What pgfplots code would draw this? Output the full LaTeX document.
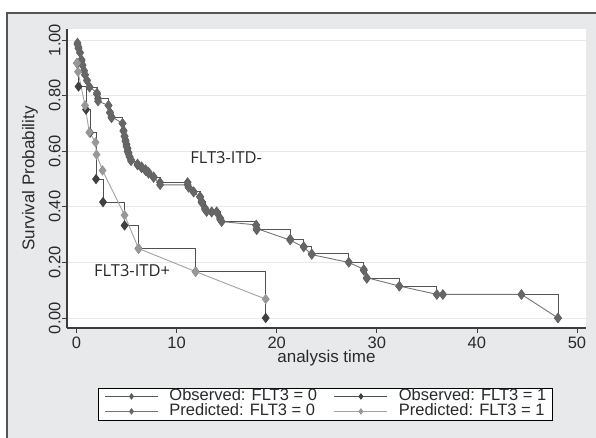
\documentclass[border=0pt]{standalone}
\usepackage{fontspec}
\setmainfont{Liberation Sans}
\newfontfamily\opensans{Open Sans}
\usepackage{pgfplots}
\pgfplotsset{compat=1.18}
\definecolor{bgc}{HTML}{E8E9EA}
\definecolor{framec}{HTML}{555555}
\definecolor{axc}{HTML}{3C3C3C}
\definecolor{gridc}{HTML}{E8E8E8}
\definecolor{obs0}{HTML}{555555}
\definecolor{mk0}{HTML}{5C5C5C}
\definecolor{pred0}{HTML}{747474}
\definecolor{mkp0}{HTML}{666666}
\definecolor{obs1}{HTML}{505050}
\definecolor{mk1}{HTML}{404040}
\definecolor{pred1}{HTML}{A2A2A2}
\definecolor{mkp1}{HTML}{989898}
\definecolor{txtc}{HTML}{2A2A2A}

\pgfplotstableread{
t S
0.1 0.985
0.2 0.97
0.35 0.955
0.5 0.925
0.6 0.91
0.75 0.89
0.85 0.875
1.05 0.855
1.3 0.83
2.05 0.805
2.15 0.79
3.2 0.765
3.35 0.74
3.5 0.72
4.6 0.70
4.7 0.675
4.8 0.655
4.9 0.64
5.0 0.625
5.1 0.61
5.2 0.595
5.3 0.58
5.45 0.565
6.1 0.55
6.5 0.54
6.9 0.53
7.2 0.52
7.7 0.505
8.35 0.488
11.1 0.488
11.2 0.47
11.7 0.455
12.35 0.437
12.5 0.42
12.85 0.395
13.0 0.383
13.5 0.383
14.0 0.383
14.35 0.36
14.5 0.347
17.95 0.333
18.0 0.317
21.35 0.284
22.7 0.257
23.5 0.231
27.2 0.201
28.7 0.171
29.0 0.142
32.25 0.114
36.0 0.084
36.6 0.084
44.45 0.084
48.1 0.0
}\obsZero

\pgfplotstableread{
t S
0.1 0.99
0.2 0.975
0.35 0.955
0.5 0.93
0.6 0.91
0.75 0.89
0.85 0.876
1.05 0.855
1.3 0.832
2.05 0.81
2.15 0.78
3.2 0.765
3.35 0.738
3.5 0.725
4.6 0.70
4.7 0.672
4.8 0.653
4.9 0.635
5.0 0.617
5.1 0.60
5.2 0.59
5.3 0.58
5.45 0.57
6.1 0.555
6.5 0.545
6.9 0.535
7.2 0.525
7.7 0.509
8.35 0.479
11.1 0.479
11.2 0.47
11.7 0.452
12.35 0.435
12.5 0.415
12.85 0.39
13.0 0.383
13.5 0.38
14.0 0.38
14.35 0.355
14.5 0.347
17.95 0.335
18.0 0.322
21.35 0.28
22.7 0.255
23.5 0.228
27.2 0.2
28.7 0.175
29.0 0.145
32.25 0.115
36.0 0.085
36.6 0.085
44.45 0.085
48.1 0.0
}\predZero

\pgfplotstableread{
t S
0.05 0.917
0.2 0.833
0.95 0.75
1.35 0.667
1.95 0.5
2.65 0.417
4.8 0.333
6.2 0.25
11.9 0.167
18.9 0.0
}\obsOne

\pgfplotstableread{
t S
0.05 0.918
0.15 0.886
0.85 0.765
1.28 0.668
1.9 0.632
2.0 0.588
2.6 0.531
4.8 0.37
6.2 0.25
11.9 0.167
18.9 0.068
}\predOne

\begin{document}
\begin{tikzpicture}[x=1pt,y=1pt]
\useasboundingbox (0,0) rectangle (596,438);
\fill[bgc] (7,0) rectangle (596,425);
\draw[framec, line width=1.3pt] (7,0) -- (7,425) -- (596,425);
\begin{axis}[
  at={(67pt,110pt)}, anchor=south west,
  scale only axis, width=519pt, height=299pt,
  xmin=-0.95, xmax=50.9, ymin=-0.036, ymax=1.04,
  axis background/.style={fill=white},
  axis x line*=bottom, axis y line*=left,
  axis line style={color=axc, line width=1.2pt, -},
  xtick={0,10,20,30,40,50},
  ytick={0,0.2,0.4,0.6,0.8,1.0},
  tick align=outside, major tick length=5pt,
  tick style={color=axc, line width=0.8pt},
  ymajorgrids, grid style={color=gridc, line width=0.9pt},
  /pgf/number format/assume math mode=true,
  tick label style={font=\fontsize{16.5}{19}\selectfont, text=txtc},
  yticklabel style={rotate=90, anchor=south, /pgf/number format/fixed, /pgf/number format/fixed zerofill, /pgf/number format/precision=2},
  yticklabel shift=-2pt,
  xticklabel style={/pgf/number format/fixed},
  xlabel={analysis time},
  xlabel style={at={(axis description cs:0.5,-0.1)}, anchor=center, font=\fontsize{17}{20}\selectfont, text=txtc},
  ylabel={Survival Probability},
  ylabel style={at={(axis description cs:-0.0713,0.5)}, anchor=center, font=\fontsize{17}{20}\selectfont, text=txtc},
  legend columns=2,
  legend cell align=left,
  legend style={at={(axis description cs:0.498,-0.254)}, anchor=center, draw=black, fill=white, thin,
    font=\fontsize{16.5}{19}\selectfont, text=txtc, inner xsep=6pt, inner ysep=1pt, row sep=0pt,
    nodes={inner sep=0pt, text height=11.5pt, text depth=3.5pt},
    /tikz/every odd column/.append style={column sep=11pt},
    /tikz/every even column/.append style={column sep=17pt}},
  legend image code/.code={\draw[mark repeat=2,mark phase=2,#1,mark size=2.6pt] plot coordinates {(0pt,0pt) (26.5pt,0pt) (53pt,0pt)};},
]
\addplot[color=obs0, line width=0.9pt, const plot mark left, mark=diamond*, mark size=4.5pt, mark options={fill=mk0, draw=mk0, solid}] table[x=t,y=S] {\obsZero};
\addlegendentry{Observed: FLT3 = 0}
\addplot[color=obs1, line width=0.9pt, const plot mark left, mark=diamond*, mark size=4.5pt, mark options={fill=mk1, draw=mk1, solid}] table[x=t,y=S] {\obsOne};
\addlegendentry{Observed: FLT3 = 1}
\addplot[color=pred0, line width=0.9pt, mark=diamond*, mark size=4.5pt, mark options={fill=mkp0, draw=mkp0, solid}] table[x=t,y=S] {\predZero};
\addlegendentry{Predicted: FLT3 = 0}
\addplot[color=pred1, line width=0.9pt, mark=diamond*, mark size=4.5pt, mark options={fill=mkp1, draw=mkp1, solid}] table[x=t,y=S] {\predOne};
\addlegendentry{Predicted: FLT3 = 1}
\node[font=\opensans\fontsize{16.5}{19}\selectfont, text=txtc] at (axis cs:14.95,0.577) {FLT3-ITD-};
\node[font=\opensans\fontsize{16.5}{19}\selectfont, text=txtc] at (axis cs:5.55,0.169) {FLT3-ITD+};
\end{axis}
\end{tikzpicture}
\end{document}
